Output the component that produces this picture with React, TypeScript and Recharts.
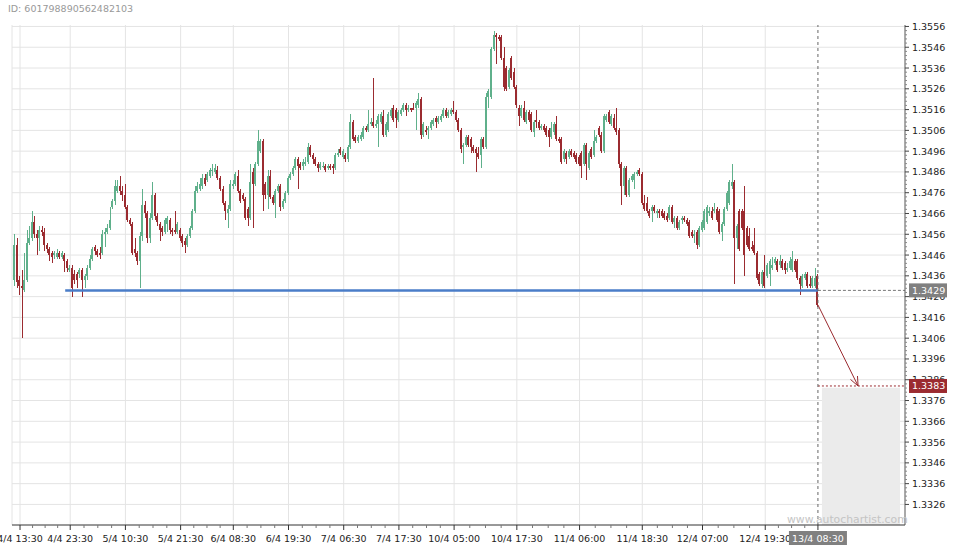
import {
  Bar,
  CartesianGrid,
  ComposedChart,
  ReferenceArea,
  ReferenceLine,
  XAxis,
  YAxis,
} from 'recharts';

// prices are stored as pips above 1.3000 (434 -> 1.3434), 30 minute bars
const BASE = 1.3;

const opens = [
  434, 451, 434, 431, 429, 434, 452, 454, 462, 456, 454, 458, 457, 451, 449, 447, 446, 445, 447, 445, 446, 443, 439, 440, 437, 437, 437, 439, 434, 436, 440, 444, 450, 448, 447, 447, 456, 457, 459,
  469, 472, 477, 479, 477, 475, 469, 463, 461, 449, 447, 443, 455, 470, 466, 454, 464, 475, 465, 461, 459, 457, 461, 463, 458, 458, 457, 458, 455, 453, 451, 455, 459, 467, 477, 478, 479, 483, 482, 484,
  487, 486, 487, 483, 478, 471, 466, 468, 479, 480, 484, 477, 475, 473, 468, 464, 486, 480, 490, 496, 501, 480, 475, 484, 474, 471, 477, 479, 469, 472, 476, 483, 485, 488, 492, 490, 489, 490, 491, 498,
  494, 492, 490, 488, 489, 489, 488, 489, 489, 488, 494, 497, 493, 494, 492, 498, 510, 503, 501, 502, 503, 507, 506, 509, 510, 508, 509, 510, 513, 504, 506, 513, 517, 516, 511, 514, 516, 518, 516, 517,
  517, 517, 518, 521, 504, 506, 506, 507, 509, 512, 510, 511, 513, 516, 513, 514, 516, 515, 511, 506, 498, 499, 503, 502, 498, 497, 495, 494, 502, 498, 522, 522, 545, 552, 551, 551, 541, 536, 527, 541,
  534, 527, 517, 513, 517, 510, 515, 514, 505, 511, 510, 507, 508, 507, 506, 503, 505, 509, 502, 502, 492, 495, 493, 496, 495, 494, 493, 495, 490, 499, 488, 497, 494, 501, 507, 504, 496, 511, 515, 509,
  512, 507, 506, 490, 479, 488, 475, 482, 482, 485, 487, 485, 471, 471, 467, 467, 469, 466, 467, 467, 466, 465, 464, 469, 462, 464, 459, 463, 464, 463, 462, 457, 455, 457, 451, 458, 459, 462, 466, 467,
  467, 468, 467, 457, 461, 468, 471, 479, 481, 454, 467, 467, 467, 459, 455, 450, 451, 447, 437, 432, 438, 436, 437, 440, 442, 443, 441, 443, 442, 439, 440, 439, 443, 443, 435, 431, 435, 437, 432, 431, 431, 436,
];

const highs = [
  456, 454, 436, 439, 447, 458, 460, 467, 465, 458, 460, 460, 459, 452, 450, 448, 448, 449, 448, 448, 447, 444, 441, 441, 439, 438, 440, 440, 437, 441, 446, 450, 451, 449, 450, 458, 459, 461, 469,
  473, 482, 482, 484, 479, 480, 470, 464, 462, 454, 448, 457, 478, 472, 467, 466, 481, 476, 466, 462, 460, 464, 465, 464, 459, 467, 462, 459, 456, 454, 456, 460, 468, 479, 481, 483, 485, 485, 486, 488,
  490, 490, 489, 484, 479, 472, 470, 482, 482, 486, 487, 478, 476, 474, 469, 490, 488, 491, 506, 502, 502, 481, 487, 487, 475, 478, 480, 480, 473, 477, 484, 486, 489, 493, 493, 491, 492, 493, 500, 499,
  495, 493, 491, 491, 491, 490, 490, 490, 490, 495, 497, 498, 497, 495, 499, 514, 511, 504, 504, 505, 508, 508, 516, 512, 531, 511, 514, 515, 516, 510, 515, 517, 518, 517, 516, 517, 519, 519, 518, 517,
  519, 520, 524, 522, 510, 508, 508, 511, 512, 513, 513, 514, 517, 517, 516, 517, 520, 516, 512, 507, 500, 504, 504, 503, 499, 498, 498, 503, 503, 524, 526, 546, 554, 553, 552, 552, 546, 537, 536, 542,
  536, 528, 518, 518, 520, 516, 516, 515, 511, 516, 511, 509, 509, 508, 507, 510, 510, 513, 503, 503, 497, 496, 497, 497, 496, 495, 494, 496, 500, 500, 496, 498, 506, 504, 508, 505, 514, 514, 516, 514,
  514, 517, 507, 491, 489, 489, 483, 485, 486, 487, 488, 486, 475, 474, 468, 470, 470, 468, 468, 468, 467, 466, 470, 470, 465, 465, 463, 465, 465, 464, 463, 458, 458, 458, 460, 463, 468, 470, 469, 469,
  471, 469, 468, 462, 469, 477, 482, 490, 482, 461, 468, 468, 479, 460, 459, 453, 459, 448, 438, 439, 446, 442, 444, 445, 445, 444, 446, 444, 443, 442, 445, 448, 444, 444, 436, 437, 438, 438, 436, 436, 440, 437,
];

const lows = [
  431, 430, 427, 406, 428, 433, 451, 453, 454, 446, 448, 455, 448, 447, 443, 442, 444, 444, 444, 444, 438, 438, 438, 426, 432, 430, 435, 426, 430, 434, 439, 443, 446, 445, 444, 446, 450, 456, 458,
  468, 470, 476, 475, 472, 468, 462, 460, 446, 445, 441, 430, 453, 464, 452, 452, 463, 463, 460, 453, 455, 456, 457, 456, 455, 456, 456, 453, 450, 447, 450, 454, 458, 466, 476, 477, 478, 479, 481, 483,
  484, 485, 482, 477, 470, 463, 459, 467, 478, 479, 476, 471, 472, 463, 460, 463, 459, 479, 489, 495, 467, 473, 468, 473, 470, 464, 476, 467, 468, 471, 475, 482, 484, 487, 478, 487, 487, 489, 490, 493,
  490, 489, 486, 487, 488, 486, 487, 487, 485, 487, 493, 494, 492, 491, 491, 497, 501, 500, 500, 501, 502, 505, 505, 508, 507, 507, 498, 509, 503, 503, 505, 512, 510, 507, 510, 513, 515, 513, 515, 515,
  516, 506, 517, 502, 503, 504, 502, 506, 508, 507, 509, 510, 512, 512, 512, 513, 514, 510, 505, 495, 490, 498, 498, 495, 495, 486, 492, 488, 497, 497, 517, 521, 544, 538, 549, 540, 525, 525, 526, 530,
  526, 517, 508, 512, 510, 509, 510, 505, 503, 507, 506, 506, 505, 503, 498, 502, 504, 501, 500, 490, 491, 490, 492, 493, 492, 490, 489, 483, 489, 482, 487, 492, 493, 500, 503, 495, 495, 510, 509, 508,
  506, 504, 488, 470, 475, 474, 474, 481, 478, 484, 484, 470, 467, 466, 464, 462, 466, 464, 464, 464, 463, 462, 463, 461, 459, 458, 458, 461, 462, 460, 454, 454, 452, 449, 450, 457, 458, 461, 465, 463,
  466, 462, 456, 453, 460, 467, 470, 478, 432, 449, 448, 458, 436, 450, 448, 448, 446, 434, 431, 430, 430, 435, 431, 439, 441, 438, 440, 439, 437, 438, 439, 438, 438, 434, 427, 430, 434, 430, 430, 430, 430, 421,
];

const closes = [
  451, 433, 431, 430, 434, 452, 454, 462, 456, 454, 458, 457, 451, 449, 446, 445, 447, 447, 445, 447, 443, 440, 440, 430, 434, 434, 439, 434, 436, 440, 444, 449, 448, 446, 446, 456, 457, 459, 463,
  472, 479, 479, 477, 475, 469, 463, 461, 447, 447, 443, 455, 470, 466, 454, 464, 475, 465, 462, 458, 457, 463, 464, 458, 457, 457, 461, 454, 452, 451, 455, 459, 467, 477, 479, 480, 483, 480, 485, 487,
  487, 488, 483, 478, 471, 467, 468, 480, 480, 485, 477, 472, 473, 464, 464, 481, 480, 490, 501, 501, 475, 475, 484, 474, 471, 477, 479, 469, 472, 476, 483, 485, 488, 492, 489, 488, 491, 491, 498, 494,
  492, 490, 488, 490, 489, 487, 489, 488, 488, 494, 495, 495, 496, 492, 498, 510, 502, 501, 503, 504, 507, 506, 509, 510, 508, 509, 513, 514, 504, 509, 514, 516, 511, 512, 515, 516, 518, 516, 517, 516,
  516, 519, 521, 504, 509, 505, 507, 510, 511, 510, 512, 513, 516, 513, 515, 516, 515, 511, 506, 497, 499, 503, 499, 498, 496, 495, 493, 502, 498, 522, 525, 545, 552, 551, 550, 541, 527, 526, 535, 531,
  527, 518, 513, 517, 511, 515, 511, 506, 510, 510, 507, 508, 506, 504, 503, 507, 509, 502, 501, 491, 496, 492, 496, 494, 493, 491, 490, 489, 499, 490, 495, 493, 501, 503, 504, 496, 513, 513, 510, 513,
  507, 505, 490, 479, 488, 475, 482, 484, 485, 486, 485, 471, 468, 467, 465, 469, 467, 467, 466, 465, 464, 463, 469, 462, 464, 459, 462, 464, 463, 461, 455, 455, 456, 451, 459, 462, 467, 469, 467, 464,
  468, 463, 457, 461, 468, 476, 481, 481, 454, 460, 449, 459, 446, 451, 449, 449, 447, 435, 432, 438, 431, 441, 443, 441, 444, 439, 443, 440, 439, 440, 443, 444, 439, 435, 432, 436, 437, 431, 431, 435, 435, 422,
];

const tickBars = [2, 22, 44, 66, 87, 109, 131, 153, 175, 200, 225, 250, 274, 299, 320];
const tickLabels = [
  '4/4 13:30', '4/4 23:30', '5/4 10:30', '5/4 21:30', '6/4 08:30', '6/4 19:30', '7/4 06:30',
  '7/4 17:30', '10/4 05:00', '10/4 17:30', '11/4 06:00', '11/4 18:30', '12/4 07:00', '12/4 19:30', '13/4 08:30',
];
const yTicks = [
  1.3326, 1.3336, 1.3346, 1.3356, 1.3366, 1.3376, 1.3386, 1.3396, 1.3406, 1.3416, 1.3426, 1.3436,
  1.3446, 1.3456, 1.3466, 1.3476, 1.3486, 1.3496, 1.3506, 1.3516, 1.3526, 1.3536, 1.3546, 1.3556,
];

const supportLevel = 1.3429;
const supportStartBar = 20;
const targetLevel = 1.3383;
const arrowEndBar = 336;
const zoneStartBar = 321.6;
const zoneEndBar = 352.7;
const chartId = 'ID: 601798890562482103';

const GREEN = '#5fb08b';
const RED = '#9b2b30';
const GRID = '#e4e4e4';
const X_MIN = -1.2;
const X_MAX = 354.7;
const Y_MIN = 1.33161;
const Y_MAX = 1.35567;

const candles = opens.map((o, i) => ({
  i,
  open: BASE + o / 10000,
  high: BASE + highs[i] / 10000,
  low: BASE + lows[i] / 10000,
  close: BASE + closes[i] / 10000,
}));
const lastBar = candles.length - 1;
const lastClose = candles[lastBar].close;

// minor ticks between the labelled ones
const xMinor: number[] = [];
for (let k = 0; k < tickBars.length - 1; k++) {
  const a = tickBars[k];
  const b = tickBars[k + 1];
  for (let j = 1; j < 4; j++) xMinor.push(a + ((b - a) * j) / 4);
}
const yMinor: number[] = [];
for (let k = 0; k < yTicks.length - 1; k++) {
  for (let j = 1; j < 5; j++) yMinor.push(+(yTicks[k] + j * 0.0002).toFixed(4));
}
const priceTags = [
  { value: supportLevel, fill: '#808080' },
  { value: targetLevel, fill: RED },
];

function Candle(props: any) {
  const { x, y, width, height, payload } = props;
  if (x == null || !payload) return null;
  const { open, close, high, low } = payload;
  const top = Math.min(y, y + height);
  const span = Math.abs(height);
  const k = high > low ? span / (high - low) : 0;
  const cx = Math.floor(x + width / 2);
  const color = close >= open ? GREEN : RED;
  const bodyTop = top + (high - Math.max(open, close)) * k;
  const bodyH = Math.max(1, Math.abs(close - open) * k);
  return (
    <g shapeRendering="crispEdges">
      <rect x={cx} y={top} width={1} height={Math.max(1, span)} fill={color} />
      <rect x={cx - 1} y={bodyTop} width={2} height={bodyH} fill={color} />
    </g>
  );
}

function XTick(props: any) {
  const { x, y, payload } = props;
  const idx = tickBars.indexOf(payload.value);
  if (idx < 0) {
    return <line x1={x} x2={x} y1={y} y2={y + 3} stroke="#777" />;
  }
  const last = idx === tickBars.length - 1;
  return (
    <g>
      <line x1={x} x2={x} y1={y} y2={y + 5} stroke="#333" />
      {last && <rect x={x - 29} y={y + 6} width={58} height={14} fill="#808080" />}
      <text x={x} y={y + 17} textAnchor="middle" fontSize={9.5} fill={last ? '#fff' : '#222'}>
        {tickLabels[idx]}
      </text>
    </g>
  );
}

function YTick(props: any) {
  const { x, y, payload } = props;
  const v = payload.value;
  const tag = priceTags.find((t) => Math.abs(t.value - v) < 1e-7);
  if (tag && props.index >= yTicks.length + yMinor.length) {
    return (
      <g>
        <rect x={x + 4} y={y - 7} width={38} height={14} fill={tag.fill} />
        <text x={x + 7} y={y + 3.5} fontSize={9.5} fill="#fff">
          {v.toFixed(4)}
        </text>
      </g>
    );
  }
  const major = yTicks.some((t) => Math.abs(t - v) < 1e-7);
  if (!major) return <line x1={x} x2={x + 2} y1={y} y2={y} stroke="#888" />;
  return (
    <g>
      <line x1={x} x2={x + 4} y1={y} y2={y} stroke="#444" />
      <text x={x + 7} y={y + 3.5} fontSize={9.5} fill="#222">
        {v.toFixed(4)}
      </text>
    </g>
  );
}

function Arrow(props: any) {
  const { x1, y1, x2, y2 } = props;
  if (x1 == null) return null;
  const ang = Math.atan2(y2 - y1, x2 - x1);
  const len = 10;
  const a1 = ang + Math.PI - 0.4;
  const a2 = ang + Math.PI + 0.4;
  return (
    <g stroke={RED} strokeWidth={1} fill="none">
      <line x1={x1} y1={y1} x2={x2} y2={y2} />
      <polyline
        points={`${x2 + len * Math.cos(a1)},${y2 + len * Math.sin(a1)} ${x2},${y2} ${x2 + len * Math.cos(a2)},${y2 + len * Math.sin(a2)}`}
      />
    </g>
  );
}

export default function App() {
  return (
    <div style={{ position: 'relative', width: 960, height: 550, background: '#fff', fontFamily: 'DejaVu Sans' }}>
      <style>{'body{margin:0}'}</style>
      <ComposedChart
        width={960}
        height={550}
        data={candles}
        margin={{ top: 25, right: 0, bottom: 0, left: 12 }}
        style={{ fontFamily: 'DejaVu Sans' }}
      >
        <CartesianGrid
          stroke={GRID}
          horizontalValues={yTicks}
          verticalValues={tickBars.slice(0, -1)}
        />
        <XAxis
          dataKey="i"
          type="number"
          domain={[X_MIN, X_MAX]}
          allowDataOverflow
          ticks={[...xMinor, ...tickBars]}
          interval={0}
          height={25}
          tickSize={0}
          tickMargin={0}
          tickLine={false}
          axisLine={{ stroke: '#333' }}
          tick={<XTick />}
        />
        <YAxis
          orientation="right"
          type="number"
          domain={[Y_MIN, Y_MAX]}
          allowDataOverflow
          width={55}
          ticks={[...yTicks, ...yMinor, supportLevel, targetLevel]}
          interval={0}
          tickSize={0}
          tickMargin={0}
          tickLine={false}
          axisLine={{ stroke: '#555' }}
          tick={<YTick />}
        />
        <ReferenceLine x={X_MIN} stroke={GRID} />
        <ReferenceArea
          x1={zoneStartBar}
          x2={zoneEndBar}
          y1={Y_MIN}
          y2={targetLevel - 0.00008}
          fill="#ebebeb"
          fillOpacity={1}
          stroke="none"
        />
        <Bar
          dataKey={(d: any) => [d.low, d.high]}
          barSize={2}
          shape={<Candle />}
          isAnimationActive={false}
        />
        <ReferenceLine
          segment={[
            { x: supportStartBar, y: supportLevel },
            { x: lastBar, y: supportLevel },
          ]}
          stroke="#4a7dc8"
          strokeWidth={2.5}
        />
        <ReferenceLine
          segment={[
            { x: lastBar, y: supportLevel },
            { x: X_MAX, y: supportLevel },
          ]}
          stroke="#777"
          strokeDasharray="3 2"
        />
        <ReferenceLine
          segment={[
            { x: lastBar, y: targetLevel },
            { x: X_MAX, y: targetLevel },
          ]}
          stroke={RED}
          strokeDasharray="2 2"
        />
        <ReferenceLine x={lastBar} stroke="#666" strokeDasharray="3 3" />
        <ReferenceLine
          segment={[
            { x: lastBar, y: lastClose },
            { x: arrowEndBar, y: targetLevel },
          ]}
          shape={<Arrow />}
        />
      </ComposedChart>
      <div style={{ position: 'absolute', left: 8, top: 3, fontSize: 9.5, color: '#999' }}>{chartId}</div>
      <div style={{ position: 'absolute', left: 787, top: 513, fontSize: 10.8, color: '#c4c4c4' }}>
        www.autochartist.com
      </div>
    </div>
  );
}
